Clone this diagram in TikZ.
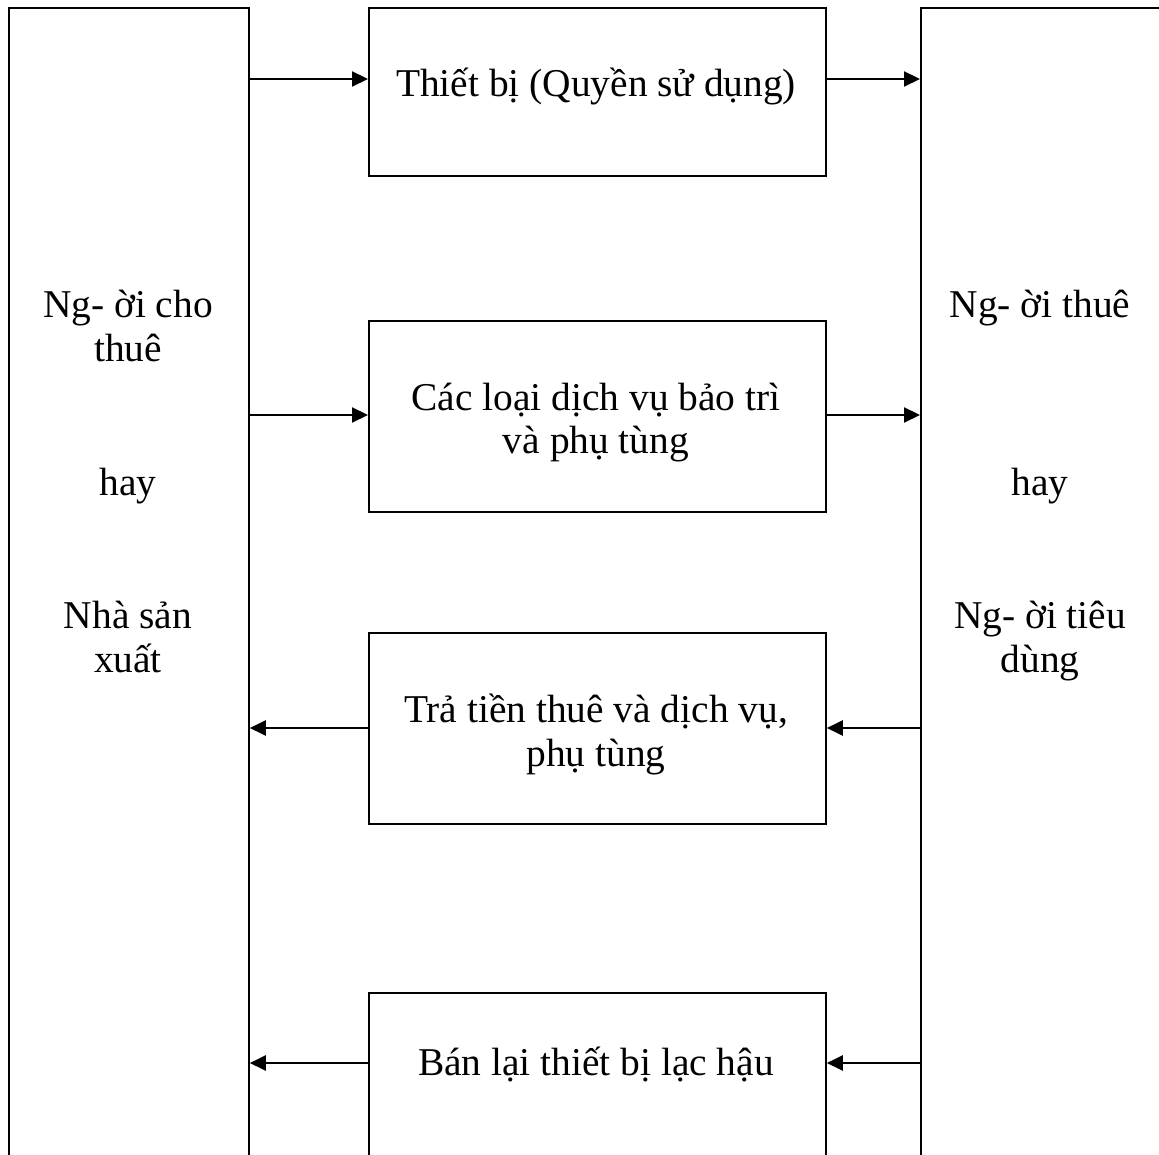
\documentclass[tikz,border=0pt]{standalone}
\usepackage{fontspec}
\setmainfont{Liberation Serif}
\usetikzlibrary{arrows.meta}
\begin{document}
\begin{tikzpicture}[x=1pt,y=-1pt,
  frame/.style={draw,line width=1.8pt,rectangle,inner sep=0pt,anchor=north west},
  txt/.style={anchor=base,inner sep=0pt,font=\fontsize{39.4}{44}\selectfont},
  flow/.style={line width=2.2pt,-{Triangle[length=16pt,width=15pt]}}]
\useasboundingbox (0,0) rectangle (1159,1155);
% side parties (run past the page edges)
\node[frame,minimum width=240pt,minimum height=1220pt] (L) at (8,7) {};
\node[frame,minimum width=260pt,minimum height=1220pt] (R) at (920,7) {};
% flows between them
\node[frame,minimum width=457pt,minimum height=168pt] (M1) at (368,7) {};
\node[frame,minimum width=457pt,minimum height=191pt] (M2) at (368,320) {};
\node[frame,minimum width=457pt,minimum height=191pt] (M3) at (368,632) {};
\node[frame,minimum width=457pt,minimum height=220pt] (M4) at (368,992) {};
% texts
\node[txt] (l1) at (128,318) {Ng- ời cho};
\node[txt] (l2) at (128,362) {thuê};
\node[txt] (l3) at (128,495) {hay};
\node[txt] (l4) at (128,628) {Nhà sản};
\node[txt] (l5) at (128,672) {xuất};
\node[txt] (r1) at (1040,318) {Ng- ời thuê};
\node[txt] (r3) at (1040,495) {hay};
\node[txt] (r4) at (1040,628) {Ng- ời tiêu};
\node[txt] (r5) at (1040,672) {dùng};
\node[txt] (t1) at (596,97) {Thiết bị (Quyền sử dụng)};
\node[txt] (t2a) at (596,410) {Các loại dịch vụ bảo trì};
\node[txt] (t2b) at (596,453) {và phụ tùng};
\node[txt] (t3a) at (596,722) {Trả tiền thuê và dịch vụ,};
\node[txt] (t3b) at (596,766) {phụ tùng};
\node[txt] (t4) at (596,1075) {Bán lại thiết bị lạc hậu};
% arrow rows
\coordinate (y1) at (0,79);
\coordinate (y2) at (0,415);
\coordinate (y3) at (0,728);
\coordinate (y4) at (0,1063);
\draw[flow] (L.east |- y1) -- (M1.west |- y1);
\draw[flow] (M1.east |- y1) -- (R.west |- y1);
\draw[flow] (L.east |- y2) -- (M2.west |- y2);
\draw[flow] (M2.east |- y2) -- (R.west |- y2);
\draw[flow] (R.west |- y3) -- (M3.east |- y3);
\draw[flow] (M3.west |- y3) -- (L.east |- y3);
\draw[flow] (R.west |- y4) -- (M4.east |- y4);
\draw[flow] (M4.west |- y4) -- (L.east |- y4);
\end{tikzpicture}
\end{document}
